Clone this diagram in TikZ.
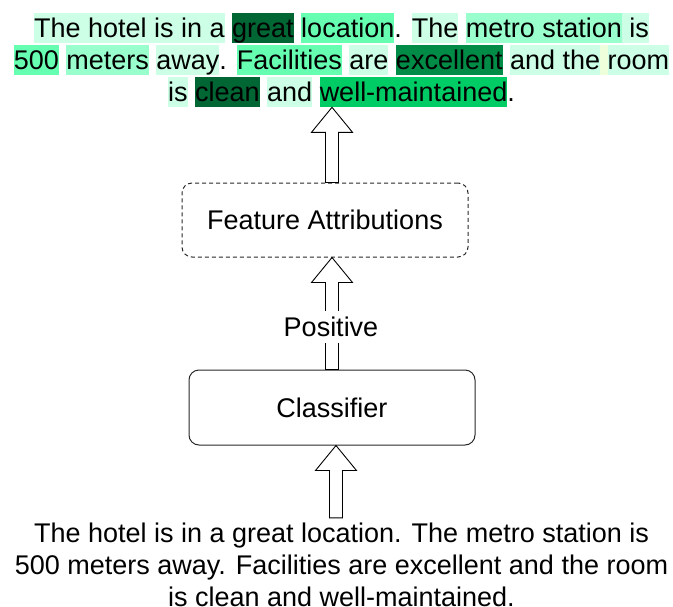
\documentclass[tikz,border=0pt]{standalone}
\usepackage{fontspec}
\setmainfont{Liberation Sans}
\usepackage{xcolor}
\usepackage{tikz}
\usetikzlibrary{positioning, calc}
\definecolor{mydark}{RGB}{40,40,40}
\definecolor{hlpale}{RGB}{204,255,229}
\definecolor{hlsoft}{RGB}{153,255,204}
\definecolor{hlmint}{RGB}{102,255,178}
\definecolor{hldeep}{RGB}{0,102,51}
\definecolor{hlmid}{RGB}{0,140,70}
\definecolor{hlbright}{RGB}{0,204,102}
\definecolor{hlcream}{RGB}{238,255,220}
\newcommand{\hlword}[2]{{\setlength{\fboxsep}{0pt}\colorbox{#1}{\rule[-5.7pt]{0pt}{30.2pt}#2}}}
\newcommand{\lnstrut}{\rule[-4pt]{0pt}{28pt}}
\tikzset{
  txtblock/.style={align=center, inner sep=0pt,
    font=\fontsize{27}{32}\selectfont},
  modelbox/.style={rectangle, draw=mydark, line width=1pt,
    minimum width=286pt, minimum height=75pt, rounded corners=10pt,
    font=\fontsize{27}{32}\selectfont},
  attrbox/.style={modelbox, dash pattern=on 4pt off 3pt, minimum height=74pt},
  fatline/.style={draw=black, line width=0.9pt, line join=miter},
  tag/.style={fill=white, inner sep=2pt, minimum height=32pt,
    font=\fontsize{27}{32}\selectfont}
}
% hollow block arrow, #1 = foot, #2 = tip
\newcommand{\fatarrow}[2]{%
  \draw[fatline] let \p1=(#1), \p2=(#2) in
    (\x1-6.5pt,\y1) -- (\x1-6.5pt,\y2-25pt) -- (\x1-20.5pt,\y2-25pt)
    -- (\x1,\y2) -- (\x1+20.5pt,\y2-25pt) -- (\x1+6.5pt,\y2-25pt)
    -- (\x1+6.5pt,\y1) -- cycle;}

\begin{document}
\begin{tikzpicture}[x=1pt, y=-1pt]
  \useasboundingbox (0,0) rectangle (673,606);

  % Highlighted review
  \node[txtblock] (expl) at (341.5,60) {%
    \hlword{hlpale}{The hotel is in a} \hlword{hldeep}{great} \hlword{hlmint}{location}. \hlword{hlpale}{The} \hlword{hlsoft}{metro station}\hlword{hlpale}{\ is}\\
    \hlword{hlmint}{500} \hlword{hlsoft}{meters} \hlword{hlpale}{away}. \hlword{hlmint}{Facilities} \hlword{hlpale}{are} \hlword{hlmid}{excellent} \hlword{hlpale}{and the}\hlword{hlcream}{\ }\hlword{hlpale}{room}\\
    \hlword{hlpale}{is} \hlword{hldeep}{clean} \hlword{hlpale}{and} \hlword{hlbright}{well-maintained}.};

  % Model and explanation boxes
  \node[attrbox] (attr) at (325,220) {Feature Attributions};
  \node[modelbox] (clf) at (332,407.5) {Classifier};

  % Plain review
  \node[txtblock] (src) at (341.5,564) {%
    \lnstrut The hotel is in a great location. The metro station is\\
    \lnstrut 500 meters away. Facilities are excellent and the room\\
    \lnstrut is clean and well-maintained.};

  % Block arrows
  \fatarrow{$(src.north -| clf)+(4,0)$}{$(clf.south)+(4,0)$}
  \fatarrow{clf.north}{attr.south -| clf}
  \fatarrow{attr.north -| clf}{expl.south -| clf}
  \node[tag] (pos) at (331,327) {Positive};
\end{tikzpicture}
\end{document}
